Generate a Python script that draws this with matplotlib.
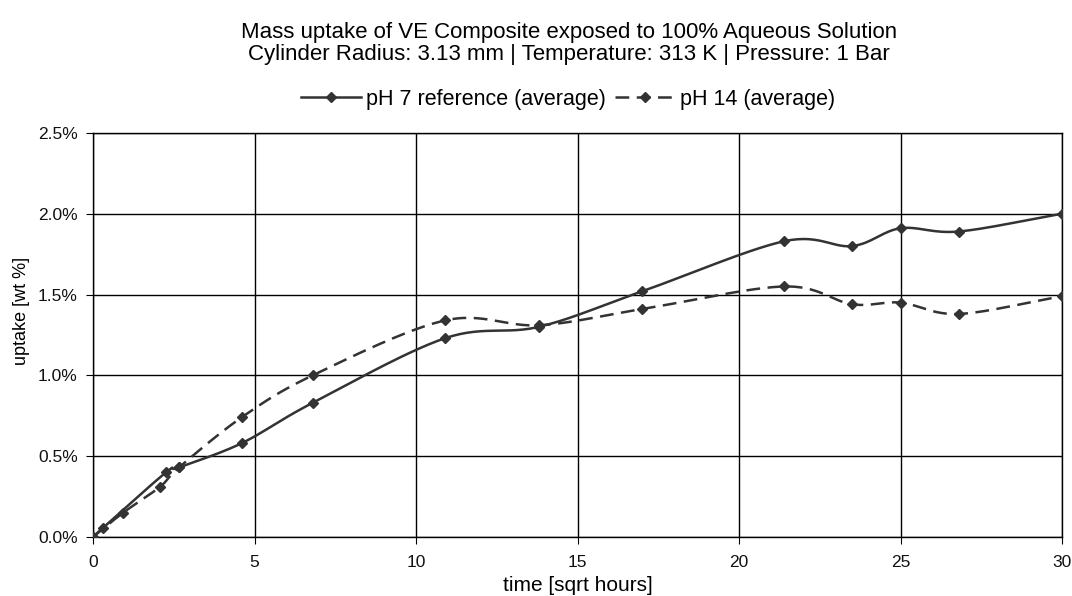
import numpy as np
import matplotlib
matplotlib.use("Agg")
import matplotlib.pyplot as plt
from matplotlib.ticker import PercentFormatter
from matplotlib.lines import Line2D

plt.rcParams['font.family'] = ['Liberation Sans', 'DejaVu Sans']

title = "Mass uptake of VE Composite exposed to 100% Aqueous Solution\nCylinder Radius: 3.13 mm | Temperature: 313 K | Pressure: 1 Bar"
xlabel = "time [sqrt hours]"
ylabel = "uptake [wt %]"
label_ph7 = "pH 7 reference (average)"
label_ph14 = "pH 14 (average)"

x_ph7 = [0, 0.3, 2.26, 2.66, 4.6, 6.8, 10.9, 13.8, 17.0, 21.4, 23.5, 25.0, 26.8, 30.0]
y_ph7 = [0.0, 0.055, 0.40, 0.43, 0.58, 0.83, 1.23, 1.30, 1.52, 1.83, 1.80, 1.91, 1.89, 2.0]

x_ph14 = [0, 0.93, 2.07, 2.66, 4.6, 6.8, 10.9, 13.8, 17.0, 21.4, 23.5, 25.0, 26.8, 30.0]
y_ph14 = [0.0, 0.15, 0.31, 0.43, 0.74, 1.0, 1.34, 1.31, 1.41, 1.55, 1.44, 1.45, 1.38, 1.49]

xticks = [0, 5, 10, 15, 20, 25, 30]
yticks = [0.0, 0.5, 1.0, 1.5, 2.0, 2.5]


def smooth(xs, ys, n=30):
    """Catmull-Rom style smoothing (like spreadsheet smoothed lines)."""
    xs = np.asarray(xs, float)
    ys = np.asarray(ys, float)
    P = np.column_stack([xs, ys])
    P = np.vstack([P[0] - (P[1] - P[0]), P, P[-1] + (P[-1] - P[-2])])
    out = []
    t = np.linspace(0, 1, n)[:, None]
    for i in range(1, len(P) - 2):
        p0, p1, p2, p3 = P[i - 1], P[i], P[i + 1], P[i + 2]
        seg = 0.5 * ((2 * p1) + (-p0 + p2) * t + (2 * p0 - 5 * p1 + 4 * p2 - p3) * t ** 2
                     + (-p0 + 3 * p1 - 3 * p2 + p3) * t ** 3)
        out.append(seg if i == 1 else seg[1:])
    out = np.vstack(out)
    return out[:, 0], out[:, 1]


fig = plt.figure(figsize=(10.72, 5.96), dpi=100)
ax = fig.add_axes([0.0868, 0.099, 0.9039, 0.678])

col = '#333333'
dash = (0, (5.5, 3))
sx, sy = smooth(x_ph7, y_ph7)
ax.plot(sx, sy, color=col, lw=1.8, solid_capstyle='butt', zorder=3)
ax.plot(x_ph7, y_ph7, ls='none', marker='D', ms=5, color=col, zorder=4)

dx, dy = smooth(x_ph14, y_ph14)
ax.plot(dx, dy, color=col, lw=1.8, ls=dash, zorder=3)
ax.plot(x_ph14, y_ph14, ls='none', marker='D', ms=5, color=col, zorder=4)

ax.set_xlim(0, 30)
ax.set_ylim(0, 2.5)
ax.set_xticks(xticks)
ax.set_yticks(yticks)
ax.yaxis.set_major_formatter(PercentFormatter(decimals=1))
ax.grid(True, color='black', lw=1)
ax.set_axisbelow(True)
for s in ax.spines.values():
    s.set_color('black')
    s.set_linewidth(1)
ax.tick_params(direction='out', length=5, color='black', labelsize=12.5, labelcolor='#111111')
ax.tick_params(axis='x', pad=8)
ax.tick_params(axis='y', pad=6)

ax.set_xlabel(xlabel, fontsize=15, va='top')
ax.xaxis.set_label_coords(0.5, -0.097)
ax.set_ylabel(ylabel, fontsize=13, va='center')
ax.yaxis.set_label_coords(-0.0743, 0.56)

fig.text(0.531, 0.963, title, ha='center', va='top', fontsize=16, linespacing=1.05)

handles = [Line2D([], [], color=col, lw=1.8, marker='D', ms=5),
           Line2D([], [], color=col, lw=1.8, ls=dash, marker='D', ms=5)]
fig.legend(handles, [label_ph7, label_ph14], loc='center', bbox_to_anchor=(568 / 1072, 1 - 99 / 596),
           ncol=2, frameon=False, fontsize=15.5, handlelength=2.8, handletextpad=0.25,
           columnspacing=0.4)

fig.savefig('out.png', dpi=100)
